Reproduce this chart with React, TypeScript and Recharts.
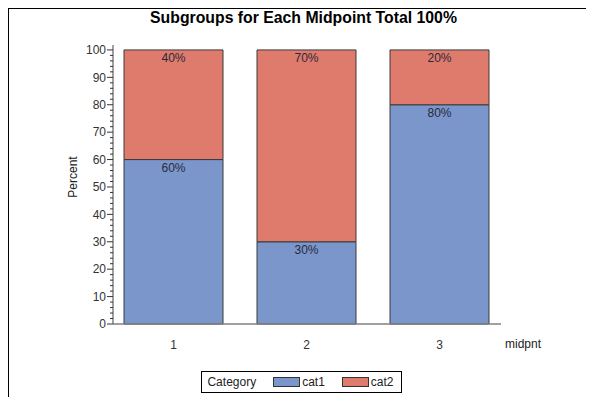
import React from 'react';
import { BarChart, Bar, XAxis, YAxis, Legend, LabelList } from 'recharts';

const midpoints = ['1', '2', '3'];
const cat1 = [60, 30, 80];
const cat2 = [40, 70, 20];
const yTicks = [0, 2, 4, 6, 8, 10, 12, 14, 16, 18, 20, 22, 24, 26, 28, 30, 32, 34, 36, 38, 40, 42, 44, 46, 48, 50,
  52, 54, 56, 58, 60, 62, 64, 66, 68, 70, 72, 74, 76, 78, 80, 82, 84, 86, 88, 90, 92, 94, 96, 98, 100];

const data = midpoints.map((m, i) => ({ midpnt: m, cat1: cat1[i], cat2: cat2[i] }));

const FONT = '"Liberation Sans", Arial, sans-serif';
const BLUE = '#7b96cb';
const RED = '#de7b6d';
const FRAME = '#808080';

function YTick(props: any) {
  const { x, y, payload } = props;
  const major = payload.value % 10 === 0;
  return (
    <g>
      <line x1={x} x2={x - (major ? 6 : 3)} y1={y} y2={y} stroke="#333" strokeWidth={1} />
      {major && (
        <text x={x - 7} y={y} dy="0.35em" textAnchor="end" fill="#333" fontSize={12} fontFamily={FONT}>
          {payload.value}
        </text>
      )}
    </g>
  );
}

function LegendBox() {
  const swatch = (c: string) => (
    <span style={{ display: 'inline-block', width: 25, height: 8, background: c, border: '1px solid #333', marginRight: 2 }} />
  );
  return (
    <div style={{ display: 'flex', justifyContent: 'center' }}>
      <div style={{ display: 'flex', alignItems: 'center', height: 20, border: '1px solid #000', padding: '0 7px 0 5px',
        fontSize: 12, fontFamily: FONT, color: '#222', boxSizing: 'content-box' }}>
        <span style={{ marginRight: 17 }}>Category</span>
        {swatch(BLUE)}<span style={{ marginRight: 17 }}>cat1</span>
        {swatch(RED)}<span>cat2</span>
      </div>
    </div>
  );
}

export default function App() {
  return (
    <div style={{ position: 'relative', width: 585, height: 388, borderTop: '1px solid #000', borderLeft: '1px solid #000',
      background: '#fff', fontFamily: FONT }}>
      <style>{'html{overflow:hidden}'}</style>
      <div style={{ position: 'absolute', left: 294.5, top: 0, transform: 'translateX(-50%)', whiteSpace: 'nowrap',
        fontWeight: 'bold', fontSize: 15.8, color: '#000' }}>
        Subgroups for Each Midpoint Total 100%
      </div>
      <div style={{ position: 'absolute', left: 64, top: 168, transform: 'translate(-50%, -50%) rotate(-90deg)',
        fontSize: 12, color: '#222', whiteSpace: 'nowrap' }}>
        Percent
      </div>
      <div style={{ position: 'absolute', left: 0, top: 0 }}>
        <BarChart width={585} height={388} data={data} margin={{ top: 36, right: 93, bottom: 4, left: 0 }}>
          <XAxis dataKey="midpnt" height={47} padding={{ left: -6, right: -5 }} tickLine={false} tickMargin={10}
            axisLine={{ stroke: FRAME, strokeWidth: 1.5 }} tick={{ fill: '#333', fontSize: 12, fontFamily: FONT }}
            label={{ value: 'midpnt', position: 'right', offset: 4, dy: -4, fill: '#222', fontSize: 12, fontFamily: FONT }} />
          <XAxis xAxisId="top" dataKey="midpnt" orientation="top" height={0} tick={false} tickLine={false}
            axisLine={{ stroke: FRAME, strokeWidth: 1.5 }} />
          <YAxis width={104} domain={[0, 101.8]} ticks={yTicks} interval={0} tickSize={0} tickMargin={0}
            tickLine={false} tick={<YTick />} axisLine={{ stroke: FRAME, strokeWidth: 1.5 }} />
          <YAxis yAxisId="right" orientation="right" width={0} domain={[0, 101.8]} tick={false} tickLine={false}
            axisLine={{ stroke: FRAME, strokeWidth: 1.5 }} />
          <Legend verticalAlign="bottom" content={<LegendBox />} wrapperStyle={{ left: 0, width: 585 }} />
          <Bar dataKey="cat1" stackId="a" fill={BLUE} stroke="#3a3a3a" strokeWidth={1} barSize={99} isAnimationActive={false}>
            <LabelList dataKey="cat1" position="insideTop" offset={4} formatter={(v: any) => `${v}%`}
              fill="#2a2a3a" fontSize={12} fontFamily={FONT} />
          </Bar>
          <Bar dataKey="cat2" stackId="a" fill={RED} stroke="#3a3a3a" strokeWidth={1} barSize={99} isAnimationActive={false}>
            <LabelList dataKey="cat2" position="insideTop" offset={4} formatter={(v: any) => `${v}%`}
              fill="#2a2a3a" fontSize={12} fontFamily={FONT} />
          </Bar>
        </BarChart>
      </div>
    </div>
  );
}
